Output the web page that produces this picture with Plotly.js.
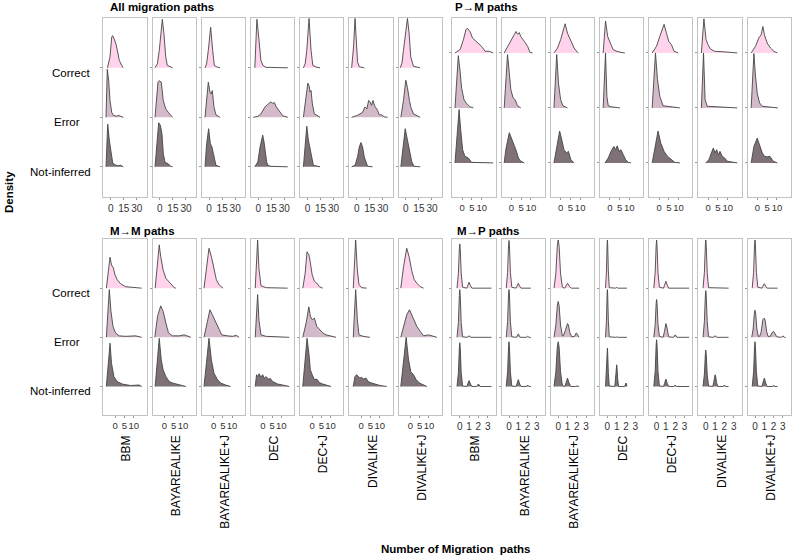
<!DOCTYPE html>
<html><head><meta charset="utf-8">
<script src="https://cdn.plot.ly/plotly-3.0.1.min.js"></script>
<style>html,body{margin:0;padding:0;background:#fff}#chart{width:796px;height:557px}</style>
</head><body><div id="chart"></div>
<script>
// ---------------- DATA ----------------
const methods = ['BBM','BAYAREALIKE','BAYAREALIKE+J','DEC','DEC+J','DIVALIKE','DIVALIKE+J'];
const categories = ['Correct','Error','Not-inferred'];
const panelTitles = ['All migration paths','P\u2192M paths','M\u2192M paths','M\u2192P paths'];
const allTicks = [0,15,30];
const pmTicks = [0,5,10];
const mmTicks = [0,5,10];
const mpTicks = [0,1,2,3];

// each curve: [number of migration paths, ridge density height (row units)]
const all_correct = [
 [[-3.7,0],[-0.8,0.22],[1.2,0.62],[2.3,0.65],[4.1,0.58],[6.1,0.48],[8.0,0.32],[9.9,0.15],[12.6,0.05],[14.5,0]],
 [[-5.6,0],[-2.9,0.08],[-0.7,0.35],[1.3,0.68],[2.8,0.98],[4.7,0.68],[6.7,0.22],[8.5,0.05],[11.6,0.02],[14.5,0]],
 [[-4.7,0],[-2.9,0.08],[-0.9,0.35],[1.8,0.82],[4.1,0.35],[6.0,0.05],[8.7,0.02],[12.5,0]],
 [[-4.0,0],[-2.8,0.5],[-1.6,0.98],[-0.5,0.8],[1.3,0.4],[3.0,0.15],[5.3,0.05],[8.7,0.01],[33.9,0]],
 [[-4.7,0],[-2.7,0.08],[-0.8,0.35],[1.8,1.0],[4.1,0.35],[6.1,0.05],[10.7,0.01],[14.5,0]],
 [[-5.8,0],[-3.6,0.42],[-1.9,1.0],[-0.5,0.42],[1.0,0.12],[3.0,0.02],[8.7,0]],
 [[-6.5,0],[-4.4,0.1],[-2.8,0.35],[-0.4,0.65],[1.8,1.0],[3.8,0.68],[5.6,0.22],[8.7,0.03],[16.4,0]]
];
const all_error = [
 [[-5.4,0],[-3.9,0.97],[-2.3,0.74],[-0.8,0.34],[1.2,0.1],[3.0,0.04],[6.9,0.02],[8.7,0.04],[11.5,0.02],[14.5,0]],
 [[-5.6,0],[-3.7,0.34],[-2.2,0.71],[-0.7,0.74],[1.6,0.71],[3.9,0.34],[6.7,0.17],[9.7,0.1],[12.4,0.03],[14.5,0]],
 [[-4.7,0],[-2.8,0.4],[-0.9,0.71],[1.0,0.51],[2.5,0.47],[3.7,0.54],[5.6,0.21],[7.9,0.05],[12.5,0]],
 [[-5.7,0],[-0.5,0.02],[3.0,0.07],[5.6,0.15],[8.1,0.22],[10.9,0.26],[14.1,0.31],[16.7,0.28],[18.4,0.3],[20.7,0.21],[24.7,0.1],[28.2,0.03],[33.9,0]],
 [[-4.7,0],[-1.9,0.34],[0.4,0.69],[1.8,0.64],[3.0,0.51],[4.1,0.54],[5.6,0.27],[7.9,0.07],[10.7,0.04],[14.5,0]],
 [[-5.8,0],[1.0,0.04],[6.8,0.1],[9.5,0.21],[11.8,0.17],[13.7,0.34],[15.6,0.31],[17.1,0.24],[18.7,0.34],[21.0,0.22],[24.0,0.14],[26.0,0.05],[28.6,0.05],[31.7,0.01],[35.5,0]],
 [[-5.8,0],[-2.8,0.34],[-0.1,0.75],[1.8,0.6],[4.1,0.34],[5.6,0.21],[8.7,0.07],[12.5,0.03],[16.4,0]]
];
const all_notinf = [
 [[-5.4,0],[-3.4,0.86],[-1.6,0.54],[0.4,0.27],[2.3,0.08],[4.9,0.04],[8.7,0.02],[11.5,0.03],[14.5,0]],
 [[-5.6,0],[-3.7,0.34],[-1.4,0.89],[0.5,0.84],[2.4,0.67],[3.9,0.27],[5.9,0.09],[9.7,0.06],[12.4,0.01],[14.5,0]],
 [[-4.7,0],[-2.8,0.47],[-0.5,0.77],[1.4,0.47],[3.3,0.4],[5.3,0.23],[7.9,0.03],[12.5,0]],
 [[-4.0,0],[-0.5,0.1],[1.8,0.38],[4.1,0.6],[5.1,0.64],[6.6,0.5],[8.1,0.3],[9.6,0.1],[11.1,0.03],[14.1,0.01],[33.9,0]],
 [[-4.7,0],[-2.8,0.4],[-0.8,0.82],[1.0,0.54],[3.0,0.34],[4.9,0.17],[6.8,0.03],[14.5,0]],
 [[-5.8,0],[-1.9,0.03],[1.0,0.2],[3.0,0.4],[4.9,0.49],[6.8,0.4],[8.7,0.2],[10.7,0.07],[12.5,0.01],[18.3,0]],
 [[-5.8,0],[-3.6,0.4],[-0.8,0.77],[1.8,0.54],[4.1,0.3],[6.8,0.1],[9.5,0.01],[16.4,0]]
];

const pm_correct = [
 [[-3.7,0],[-1.1,0.06],[0.6,0.24],[1.9,0.42],[2.6,0.45],[4.0,0.39],[5.3,0.27],[7.1,0.21],[8.3,0.18],[9.9,0.12],[11.7,0.03],[13.9,0.03],[15.9,0]],
 [[-3.7,0],[-2.0,0.12],[-0.3,0.24],[1.4,0.33],[2.3,0.39],[3.2,0.34],[4.0,0.37],[4.8,0.3],[6.6,0.21],[8.3,0.12],[9.5,0.01],[10.8,0]],
 [[-3.4,0],[-1.6,0.09],[0,0.24],[2.3,0.53],[3.5,0.36],[5.2,0.21],[6.9,0.09],[8.6,0.01],[9.1,0]],
 [[-3.4,0],[-2.2,0.58],[-1.1,0.3],[-0.3,0.21],[0.6,0.15],[1.7,0.06],[3.5,0.03],[5.7,0.01],[7.7,0]],
 [[-3.5,0],[-1.3,0.12],[0.4,0.3],[2.6,0.52],[3.8,0.36],[5.0,0.21],[6.4,0.15],[7.7,0.03],[9.8,0]],
 [[-3.5,0],[-2.2,0.62],[-1.1,0.24],[-0.1,0.15],[1.2,0.07],[3.3,0.03],[8.1,0.02],[14.9,0]],
 [[-3.2,0],[-1.0,0.12],[0.7,0.27],[1.9,0.33],[2.8,0.48],[3.6,0.33],[5.0,0.18],[6.7,0.09],[8.4,0.03],[10.2,0]]
];
const pm_error = [
 [[-3.7,0],[-2.0,0.95],[-1.1,0.67],[-0.3,0.36],[0.9,0.15],[2.3,0.08],[4.0,0.02],[5.7,0]],
 [[-3.7,0],[-2.0,0.97],[-1.1,0.64],[-0.3,0.33],[0.9,0.18],[1.9,0.15],[3.1,0.04],[4.8,0]],
 [[-3.4,0],[-2.0,0.97],[-1.1,0.45],[0,0.15],[1.2,0.04],[3.5,0]],
 [[-3.4,0],[-2.2,1.0],[-1.5,0.21],[-0.8,0.04],[0.9,0.02],[5.2,0]],
 [[-3.5,0],[-1.8,1.0],[-0.8,0.52],[0.4,0.21],[2.1,0.04],[10.7,0]],
 [[-3.5,0],[-2.4,1.0],[-1.6,0.15],[-0.5,0.03],[14.9,0]],
 [[-3.2,0],[-1.8,0.99],[-1.0,0.58],[-0.1,0.27],[1.1,0.09],[2.5,0.03],[10.5,0]]
];
const pm_notinf = [
 [[-3.7,0],[-1.6,0.97],[-0.8,0.61],[0.2,0.24],[1.4,0.12],[3.1,0.09],[4.8,0.01],[15.9,0]],
 [[-3.7,0],[-2.9,0.24],[-1.1,0.55],[-0.3,0.48],[0.9,0.39],[2.3,0.24],[3.6,0.09],[4.8,0.03],[6.6,0]],
 [[-3.4,0],[-2.0,0.3],[-0.5,0.58],[0.6,0.42],[1.7,0.24],[3.0,0.18],[4.0,0.21],[5.2,0.06],[6.9,0]],
 [[-2.5,0],[-0.8,0.09],[0.6,0.21],[1.2,0.24],[2.1,0.3],[3.0,0.24],[3.8,0.31],[4.7,0.21],[5.7,0.24],[6.9,0.15],[8.1,0.06],[9.4,0.01],[10.8,0]],
 [[-3.5,0],[-1.8,0.36],[-0.5,0.58],[0.9,0.36],[2.6,0.21],[4.3,0.12],[6.4,0.06],[8.1,0.01],[10.7,0]],
 [[-1.3,0],[0.4,0.06],[1.6,0.18],[2.6,0.27],[3.5,0.18],[4.3,0.24],[5.2,0.15],[6.0,0.21],[7.2,0.12],[8.4,0.09],[9.8,0.03],[12.4,0.01],[14.9,0]],
 [[-3.2,0],[-1.8,0.3],[-0.1,0.45],[1.2,0.33],[2.5,0.18],[3.6,0.12],[5.0,0.11],[6.4,0.12],[8.1,0.03],[10.2,0]]
];

const mm_correct = [
 [[-4.8,0],[-2.8,0.63],[-2.0,0.47],[-1.0,0.41],[-0.1,0.27],[1.1,0.17],[2.9,0.09],[5.6,0.03],[14.3,0]],
 [[-5.0,0],[-3.7,0.44],[-2.8,0.88],[-2.0,0.64],[-0.7,0.37],[0.8,0.2],[2.2,0.14],[3.5,0.07],[5.3,0.01],[6.2,0]],
 [[-5.2,0],[-3.9,0.44],[-2.5,0.81],[-1.2,0.64],[0.2,0.37],[1.5,0.17],[2.9,0.07],[5.1,0]],
 [[-4.1,0],[-3.5,0.5],[-2.8,0.98],[-2.1,0.4],[-1.0,0.05],[1.8,0.01],[13.4,0]],
 [[-5.0,0],[-3.7,0.3],[-2.7,0.74],[-1.7,0.68],[-1.0,0.54],[0.1,0.27],[1.3,0.14],[2.6,0.1],[4.0,0.03],[5.8,0]],
 [[-4.3,0],[-3.6,0.5],[-3.0,0.98],[-2.1,0.37],[-1.2,0.07],[0.2,0.01],[2.9,0]],
 [[-5.2,0],[-3.7,0.44],[-2.0,0.81],[-0.7,0.64],[0.8,0.34],[2.1,0.17],[3.5,0.1],[5.3,0.03],[7.1,0]]
];
const mm_error = [
 [[-4.8,0],[-3.2,0.97],[-2.3,0.53],[-1.2,0.22],[0.2,0.09],[2.1,0.03],[5.6,0.02],[11.0,0.03],[14.3,0]],
 [[-5.2,0],[-3.7,0.43],[-2.0,0.64],[-0.7,0.53],[0.8,0.29],[2.2,0.09],[4.4,0.03],[8.0,0.03],[10.7,0.05],[14.3,0]],
 [[-5.2,0],[-3.4,0.29],[-2.0,0.56],[-0.7,0.46],[1.1,0.32],[2.9,0.19],[4.4,0.05],[7.5,0.03],[10.2,0.02],[12.3,0.04],[13.8,0]],
 [[-4.1,0],[-3.5,0.45],[-2.8,0.87],[-2.1,0.35],[-1.0,0.05],[1.8,0.02],[14.3,0]],
 [[-5.0,0],[-3.2,0.29],[-1.7,0.62],[-0.9,0.43],[0.1,0.36],[1.3,0.39],[2.6,0.22],[4.0,0.16],[5.8,0.09],[7.6,0.05],[10.3,0.02],[13.0,0]],
 [[-4.3,0],[-3.6,0.5],[-3.0,0.97],[-2.1,0.36],[-1.2,0.05],[1.1,0.02],[4.7,0]],
 [[-5.2,0],[-3.7,0.22],[-2.0,0.46],[-0.5,0.56],[1.3,0.39],[3.5,0.22],[5.3,0.12],[7.1,0.03],[9.8,0.05],[12.5,0.02],[14.3,0]]
];
const mm_notinf = [
 [[-4.8,0],[-2.8,0.88],[-2.0,0.47],[-0.7,0.2],[1.1,0.1],[3.8,0.05],[8.3,0.02],[12.9,0.03],[14.3,0]],
 [[-5.0,0],[-2.8,0.98],[-1.7,0.54],[-0.7,0.34],[0.8,0.2],[2.6,0.1],[4.4,0.07],[6.2,0.05],[8.9,0.03],[11.6,0]],
 [[-5.2,0],[-2.5,0.98],[-1.2,0.54],[0.2,0.27],[2.1,0.14],[3.8,0.07],[6.5,0.03],[9.2,0]],
 [[-4.1,0],[-3.4,0.24],[-2.7,0.2],[-2.0,0.26],[-1.0,0.19],[-0.1,0.24],[0.8,0.17],[1.7,0.2],[3.1,0.15],[4.1,0.16],[5.3,0.1],[6.5,0.08],[8.0,0.05],[10.7,0.03],[14.3,0]],
 [[-5.0,0],[-2.7,0.98],[-1.7,0.68],[-0.9,0.34],[0.1,0.24],[1.3,0.14],[2.6,0.15],[4.0,0.08],[5.8,0.05],[8.5,0.01],[10.3,0]],
 [[-4.3,0],[-3.4,0.2],[-2.5,0.24],[-1.6,0.2],[-0.7,0.17],[0.2,0.19],[1.1,0.15],[2.6,0.17],[3.8,0.1],[5.6,0.07],[7.5,0.05],[10.2,0.02],[13.8,0]],
 [[-5.2,0],[-2.3,1.0],[-1.0,0.54],[0.2,0.3],[1.7,0.24],[3.1,0.14],[4.9,0.07],[7.1,0.03],[8.9,0]]
];

const mp_correct = [
 [[-0.3,0],[-0.15,0.3],[-0.05,0.8],[0,0.9],[0.05,0.8],[0.15,0.3],[0.3,0.02],[0.75,0],[0.85,0.05],[1,0.12],[1.15,0.05],[1.3,0],[3.4,0]],
 [[-0.3,0],[-0.15,0.32],[-0.05,0.86],[0,0.97],[0.05,0.86],[0.15,0.32],[0.3,0.02],[0.75,0],[0.85,0.04],[1,0.1],[1.15,0.04],[1.3,0],[2.35,0]],
 [[-0.45,0],[-0.25,0.3],[-0.1,0.85],[0,0.98],[0.1,0.85],[0.25,0.3],[0.45,0.02],[0.7,0],[0.85,0.05],[1,0.1],[1.2,0.04],[1.4,0],[2.25,0]],
 [[-0.2,0],[-0.1,0.35],[-0.03,0.9],[0,0.98],[0.03,0.9],[0.1,0.35],[0.2,0.01],[0.9,0],[1,0.02],[1.1,0],[2.1,0]],
 [[-0.3,0],[-0.15,0.32],[-0.05,0.86],[0,0.98],[0.05,0.86],[0.15,0.32],[0.3,0.02],[0.75,0],[0.85,0.06],[1,0.14],[1.15,0.06],[1.3,0],[3.5,0]],
 [[-0.3,0],[-0.15,0.32],[-0.05,0.86],[0,0.98],[0.05,0.86],[0.15,0.32],[0.3,0.01],[2.45,0]],
 [[-0.3,0],[-0.15,0.32],[-0.05,0.86],[0,0.98],[0.05,0.86],[0.15,0.32],[0.3,0.02],[0.75,0],[0.85,0.04],[1,0.09],[1.15,0.04],[1.3,0],[2.42,0]]
];
const mp_error = [
 [[-0.3,0],[-0.15,0.3],[-0.05,0.85],[0,0.97],[0.05,0.85],[0.15,0.3],[0.3,0.01],[0.8,0],[1,0.03],[1.2,0],[3.4,0]],
 [[-0.3,0],[-0.15,0.32],[-0.05,0.86],[0,0.97],[0.05,0.86],[0.15,0.32],[0.3,0.01],[0.8,0],[1,0.07],[1.2,0],[1.85,0],[2,0.02],[2.15,0],[2.35,0]],
 [[-0.45,0],[-0.25,0.25],[-0.1,0.64],[0,0.73],[0.1,0.64],[0.25,0.25],[0.45,0.03],[0.55,0.03],[0.75,0.13],[0.9,0.26],[1,0.28],[1.1,0.25],[1.25,0.1],[1.45,0.01],[1.75,0.02],[1.95,0.09],[2.15,0.03],[2.25,0]],
 [[-0.2,0],[-0.1,0.35],[-0.03,0.88],[0,0.97],[0.03,0.88],[0.1,0.35],[0.2,0.01],[0.9,0],[1,0.01],[1.1,0],[2.1,0]],
 [[-0.3,0],[-0.15,0.26],[-0.05,0.68],[0,0.77],[0.05,0.68],[0.15,0.26],[0.3,0.02],[0.7,0],[0.85,0.12],[0.95,0.26],[1,0.28],[1.05,0.26],[1.15,0.12],[1.3,0.01],[1.8,0],[2,0.05],[2.2,0],[3.5,0]],
 [[-0.3,0],[-0.15,0.32],[-0.05,0.84],[0,0.95],[0.05,0.84],[0.15,0.32],[0.3,0.01],[0.8,0],[1,0.03],[1.2,0],[2.45,0]],
 [[-0.35,0],[-0.2,0.17],[-0.08,0.47],[0,0.55],[0.08,0.47],[0.2,0.17],[0.35,0.02],[0.5,0.02],[0.65,0.1],[0.85,0.36],[1,0.39],[1.1,0.34],[1.25,0.12],[1.4,0.02],[1.65,0.02],[1.85,0.1],[2,0.12],[2.15,0.08],[2.35,0.01],[2.85,0],[3,0.03],[3.15,0],[3.3,0]]
];
const mp_notinf = [
 [[-0.3,0],[-0.15,0.28],[-0.05,0.78],[0,0.89],[0.05,0.78],[0.15,0.28],[0.3,0.01],[0.75,0],[0.85,0.05],[1,0.12],[1.15,0.05],[1.3,0],[1.8,0],[2,0.05],[2.2,0],[3.4,0]],
 [[-0.3,0],[-0.15,0.3],[-0.05,0.8],[0,0.91],[0.05,0.8],[0.15,0.3],[0.3,0.01],[0.75,0],[0.85,0.05],[1,0.14],[1.15,0.05],[1.3,0],[1.85,0],[2,0.03],[2.15,0],[2.35,0]],
 [[-0.45,0],[-0.25,0.3],[-0.1,0.8],[0,0.91],[0.1,0.8],[0.25,0.3],[0.45,0.02],[0.7,0],[0.85,0.08],[1,0.17],[1.15,0.08],[1.35,0],[1.9,0],[2,0.01],[2.25,0]],
 [[-0.2,0],[-0.1,0.28],[-0.03,0.7],[0,0.78],[0.03,0.7],[0.1,0.28],[0.2,0.01],[0.8,0],[0.9,0.16],[0.97,0.4],[1,0.44],[1.03,0.4],[1.1,0.16],[1.2,0],[1.85,0],[1.95,0.05],[2,0.07],[2.05,0.05],[2.1,0]],
 [[-0.3,0],[-0.15,0.31],[-0.05,0.84],[0,0.95],[0.05,0.84],[0.15,0.31],[0.3,0.01],[0.75,0],[0.85,0.06],[1,0.15],[1.15,0.06],[1.3,0],[1.85,0],[2,0.03],[2.15,0],[3.5,0]],
 [[-0.3,0],[-0.15,0.25],[-0.05,0.65],[0,0.74],[0.05,0.65],[0.15,0.25],[0.3,0.01],[0.75,0],[0.85,0.08],[0.95,0.22],[1,0.24],[1.05,0.22],[1.15,0.08],[1.3,0],[1.85,0],[2,0.03],[2.15,0],[2.45,0]],
 [[-0.3,0],[-0.15,0.3],[-0.05,0.8],[0,0.91],[0.05,0.8],[0.15,0.3],[0.3,0.01],[0.75,0],[0.85,0.07],[1,0.17],[1.15,0.07],[1.3,0],[1.85,0],[2,0.02],[2.15,0],[2.42,0]]
];

// ---------------- LAYOUT / STYLE ----------------
const W = 796, H = 557;
const FONT = 'Liberation Sans, Arial, sans-serif';
const fillColors = ['#ffd3ec', '#d3b9ca', '#7e7178'];
const lineColor = '#454545';
const boxW = 43.3, colStep = 49.2;

const panels = [
  {title: panelTitles[0], curves: [all_correct, all_error, all_notinf], ticks: allTicks, tfs: 10, xr: [-8.5, 41.3], yr: [0.39, 4.0], left: 103.3, top: 18.3, bottom: 197, tx: 107.5, ty: 7},
  {title: panelTitles[1], curves: [pm_correct, pm_error, pm_notinf], ticks: pmTicks, tfs: 9.5, xr: [-5.08, 17.1], yr: [0.38, 3.63], left: 452.3, top: 18.3, bottom: 197, tx: 452.5, ty: 7},
  {title: panelTitles[2], curves: [mm_correct, mm_error, mm_notinf], ticks: mmTicks, tfs: 9.5, xr: [-6.44, 16.96], yr: [0.42, 4.0], left: 103.3, top: 239, bottom: 415, tx: 107.5, ty: 231},
  {title: panelTitles[3], curves: [mp_correct, mp_error, mp_notinf], ticks: mpTicks, tfs: 10, xr: [-0.806, 3.85], yr: [0.42, 4.0], left: 452.3, top: 239, bottom: 415, tx: 455, ty: 231}
];

const traces = [];
const layout = {
  width: W, height: H, margin: {l: 0, r: 0, t: 0, b: 0},
  paper_bgcolor: '#fff', plot_bgcolor: 'rgba(0,0,0,0)',
  showlegend: false, font: {family: FONT, color: '#000'},
  annotations: []
};

panels.forEach((p, pi) => {
  methods.forEach((m, mi) => {
    const k = pi * 7 + mi + 1;
    const xa = k === 1 ? 'x' : 'x' + k;
    const ya = k === 1 ? 'y' : 'y' + k;
    const L = p.left + mi * colStep;
    layout['xaxis' + (k === 1 ? '' : k)] = {
      domain: [L / W, (L + boxW) / W], range: p.xr, anchor: ya,
      tickvals: p.ticks, ticktext: p.ticks.map(String), tickangle: 0,
      ticks: 'outside', ticklen: 2, tickcolor: '#9a9a9a', tickwidth: 1,
      tickfont: {size: p.tfs, color: '#333', family: FONT},
      showline: true, mirror: true, linecolor: '#c2c2c2', linewidth: 1,
      showgrid: false, zeroline: false, fixedrange: true
    };
    layout['yaxis' + (k === 1 ? '' : k)] = {
      domain: [1 - p.bottom / H, 1 - p.top / H], range: p.yr, anchor: xa,
      tickvals: [1, 2, 3], ticks: 'outside', ticklen: 2, tickcolor: '#9a9a9a',
      showticklabels: false, showline: true, mirror: true, linecolor: '#c2c2c2', linewidth: 1,
      showgrid: false, zeroline: false, fixedrange: true
    };
    categories.forEach((c, ci) => {
      const base = 3 - ci;
      const pts = p.curves[ci][mi];
      const xs = pts.map(d => d[0]);
      const ys = pts.map(d => base + d[1]);
      traces.push({
        type: 'scatter', mode: 'lines', xaxis: xa, yaxis: ya,
        x: xs.concat([xs[xs.length - 1], xs[0]]), y: ys.concat([base, base]),
        fill: 'toself', fillcolor: fillColors[ci], line: {width: 0}, hoverinfo: 'skip'
      });
      traces.push({
        type: 'scatter', mode: 'lines', xaxis: xa, yaxis: ya, x: xs, y: ys,
        line: {color: lineColor, width: 0.9}, hoverinfo: 'skip'
      });
    });
    // method labels under the bottom panels
    if (pi >= 2) {
      layout.annotations.push({
        xref: 'paper', yref: 'paper', x: (L + boxW / 2 + 1.5) / W, y: 1 - 433 / H,
        xanchor: 'center', yanchor: 'top', textangle: -90, showarrow: false,
        text: m, font: {size: 12, family: FONT, color: '#000'}
      });
    }
  });
  // panel title
  layout.annotations.push({
    xref: 'paper', yref: 'paper', x: p.tx / W, y: 1 - p.ty / H, xanchor: 'left', yanchor: 'middle',
    showarrow: false, text: '<b>' + p.title + '</b>', font: {size: 11.5, family: FONT, color: '#000'}
  });
  // row labels on the left panels
  if (pi === 0 || pi === 2) {
    const ya = pi === 0 ? 'y' : 'y15';
    const labelX = [[93, 'right'], [67, 'center'], [93, 'right']];
    categories.forEach((c, ci) => {
      layout.annotations.push({
        xref: 'paper', yref: ya, x: labelX[ci][0] / W, y: 3 - ci, yshift: -5,
        xanchor: labelX[ci][1], yanchor: 'middle', showarrow: false,
        text: c, font: {size: 11.5, family: FONT, color: '#000'}
      });
    });
  }
});

layout.annotations.push({
  xref: 'paper', yref: 'paper', x: 9 / W, y: 1 - 192 / H, xanchor: 'center', yanchor: 'middle',
  textangle: -90, showarrow: false, text: '<b>Density</b>', font: {size: 11.5, family: FONT, color: '#000'}
});
layout.annotations.push({
  xref: 'paper', yref: 'paper', x: 455.5 / W, y: 1 - 549 / H, xanchor: 'center', yanchor: 'middle',
  showarrow: false, text: '<b>Number of Migration  paths</b>', font: {size: 11.5, family: FONT, color: '#000'}
});

Plotly.newPlot('chart', traces, layout, {staticPlot: true, displayModeBar: false});
</script>
</body></html>
